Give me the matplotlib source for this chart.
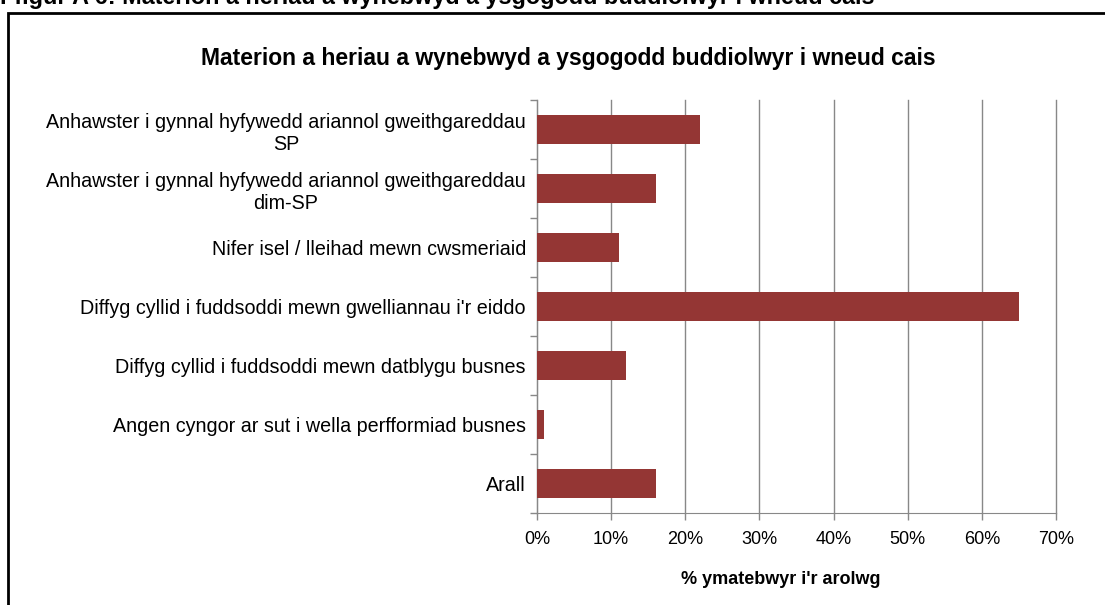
import matplotlib.pyplot as plt
from matplotlib.patches import Rectangle
from matplotlib.ticker import FixedLocator, PercentFormatter

plt.rcParams['font.family'] = ['Liberation Sans', 'DejaVu Sans']

caption = "Ffigur A 6: Materion a heriau a wynebwyd a ysgogodd buddiolwyr i wneud cais"
title = "Materion a heriau a wynebwyd a ysgogodd buddiolwyr i wneud cais"
xlabel = "% ymatebwyr i'r arolwg"

categories = [
    "Anhawster i gynnal hyfywedd ariannol gweithgareddau\nSP",
    "Anhawster i gynnal hyfywedd ariannol gweithgareddau\ndim-SP",
    "Nifer isel / lleihad mewn cwsmeriaid",
    "Diffyg cyllid i fuddsoddi mewn gwelliannau i'r eiddo",
    "Diffyg cyllid i fuddsoddi mewn datblygu busnes",
    "Angen cyngor ar sut i wella perfformiad busnes",
    "Arall",
]
values = [22, 16, 11, 65, 12, 1, 16]

fig = plt.figure(figsize=(11.05, 6.05), dpi=100)
ax = fig.add_axes([537 / 1105, 1 - 513 / 605, (1056 - 537) / 1105, (513 - 100) / 605])

# outer frame (right and bottom edges fall outside the picture)
fig.patches.append(Rectangle((8 / 1105, -0.1), 1.2, 1 - 13 / 605 + 0.1,
                             transform=fig.transFigure, fill=False,
                             edgecolor='black', linewidth=2))

# figure caption, partly cut off at the top as in the source
fig.text(0.0, 1 - 4 / 605, caption, fontsize=16.8, fontweight='bold', va='baseline', ha='left')

y = list(range(len(categories)))
ax.barh(y, values, height=0.49, color='#943634', zorder=3)
ax.set_ylim(len(categories) - 0.5, -0.5)
ax.set_xlim(0, 70)

ax.set_yticks(y)
ax.set_yticklabels(categories, fontsize=14.2, ha='right', multialignment='center')
ax.tick_params(axis='y', length=0, pad=8)
ax.yaxis.set_minor_locator(FixedLocator([i - 0.5 for i in range(len(categories) + 1)]))
ax.tick_params(axis='y', which='minor', length=5, color='#888888', width=1)

ax.set_xticks(range(0, 71, 10))
ax.xaxis.set_major_formatter(PercentFormatter(decimals=0))
ax.tick_params(axis='x', labelsize=13, length=5, color='#888888', width=1, pad=8)
ax.grid(axis='x', color='#888888', linewidth=1, zorder=0)
for g in ax.get_xgridlines():
    g.set_clip_on(False)

for s in ['top', 'right']:
    ax.spines[s].set_visible(False)
for s in ['left', 'bottom']:
    ax.spines[s].set_color('#888888')

ax.set_xlabel(xlabel, fontsize=13, fontweight='bold')
ax.xaxis.set_label_coords((781 - 537) / 519, -58 / 413)
fig.text(568 / 1105, 1 - 58 / 605, title, fontsize=16.5, fontweight='bold', ha='center', va='center')

fig.savefig('out.png', dpi=100)
